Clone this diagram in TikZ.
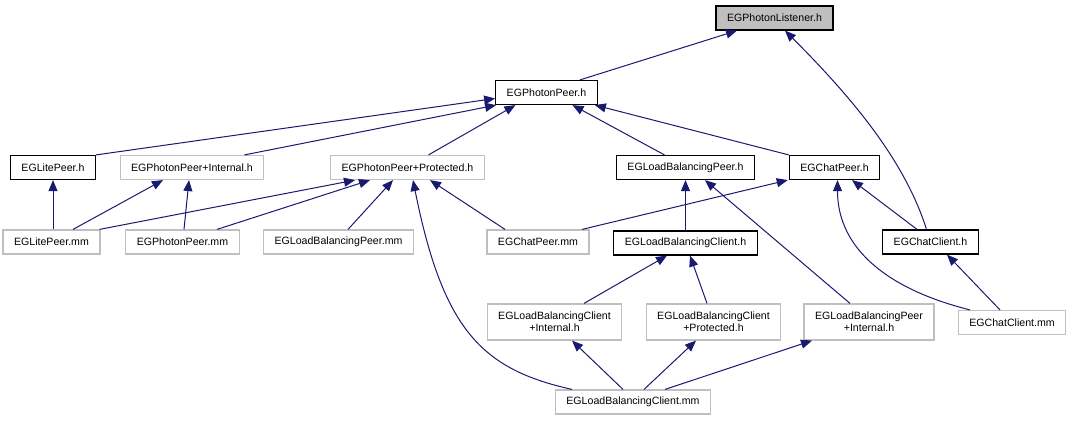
\documentclass[tikz,border=0pt]{standalone}
\usepackage{fontspec}
\setmainfont{Liberation Sans}
\usetikzlibrary{arrows.meta}
\definecolor{edgeblue}{RGB}{25,25,112}
\definecolor{nodegrey}{RGB}{191,191,191}

\begin{document}
\begin{tikzpicture}[
        x=1pt, y=-1pt,
        >={Triangle[length=11pt,width=9pt]},
        file/.style={rectangle, align=center, inner xsep=11pt, inner ysep=5pt,
            minimum height=24pt, font=\fontsize{10.6}{12}\selectfont,
            line width=1.2pt},
        hdr/.style={file, draw=black},
        src/.style={file, draw=nodegrey},
        root/.style={file, draw=black, fill=nodegrey},
        tall/.style={minimum height=36pt},
        dep/.style={->, color=edgeblue, line width=1pt}
    ]
        \useasboundingbox (0,0) rectangle (1072,421);

        \node[root] (listener) at (774.5,18) {EGPhotonListener.h};
        \node[hdr] (photonpeer) at (546.5,92.5) {EGPhotonPeer.h};
        \node[hdr] (litepeerh) at (53,167.5) {EGLitePeer.h};
        \node[src] (ppinternal) at (192,167.5) {EGPhotonPeer+Internal.h};
        \node[src] (ppprotected) at (407.5,167.5) {EGPhotonPeer+Protected.h};
        \node[hdr] (lbpeerh) at (685.5,167.5) {EGLoadBalancingPeer.h};
        \node[hdr] (chatpeerh) at (834.5,167.5) {EGChatPeer.h};
        \node[src] (litepeermm) at (51.5,242) {EGLitePeer.mm};
        \node[src] (photonpeermm) at (182.5,242) {EGPhotonPeer.mm};
        \node[src] (lbpeermm) at (338.5,242) {EGLoadBalancingPeer.mm};
        \node[src] (chatpeermm) at (538,242) {EGChatPeer.mm};
        \node[hdr] (lbclienth) at (685.5,243) {EGLoadBalancingClient.h};
        \node[hdr] (chatclienth) at (930.5,242) {EGChatClient.h};
        \node[src, tall] (lbclientint) at (554.5,322) {EGLoadBalancingClient\\+Internal.h};
        \node[src, tall] (lbclientprot) at (713.5,322) {EGLoadBalancingClient\\+Protected.h};
        \node[src, tall] (lbpeerint) at (869,322) {EGLoadBalancingPeer\\+Internal.h};
        \node[src] (chatclientmm) at (1012,322.5) {EGChatClient.mm};
        \node[src] (lbclientmm) at (633,402) {EGLoadBalancingClient.mm};

        \draw[dep] ([xshift=33.5pt]photonpeer.north) -- ([xshift=-37.5pt]listener.south);
        \draw[dep] ([xshift=-4pt]chatclienth.north) .. controls +(-22,-70) and +(65,65) .. ([xshift=10.5pt]listener.south);
        \draw[dep] (litepeerh.north east) -- ([yshift=-6pt]photonpeer.west);
        \draw[dep] ([xshift=-20pt]ppinternal.north east) -- ([xshift=1pt]photonpeer.south west);
        \draw[dep] ([xshift=21pt]ppprotected.north) -- ([xshift=-31pt]photonpeer.south);
        \draw[dep] ([xshift=-21pt]lbpeerh.north) -- ([xshift=26pt]photonpeer.south);
        \draw[dep] (chatpeerh.north west) -- ([xshift=-3pt]photonpeer.south east);
        \draw[dep] ([xshift=1.5pt]litepeermm.north) -- (litepeerh.south);
        \draw[dep] ([xshift=21.5pt]litepeermm.north) -- ([xshift=-29pt]ppinternal.south);
        \draw[dep] ([xshift=-1pt]litepeermm.north east) -- ([xshift=-52.5pt]ppprotected.south);
        \draw[dep] ([xshift=1.5pt]photonpeermm.north) -- ([xshift=-3pt]ppinternal.south);
        \draw[dep] ([xshift=34.5pt]photonpeermm.north) -- ([xshift=-37.5pt]ppprotected.south);
        \draw[dep] ([xshift=9.5pt]lbpeermm.north) -- ([xshift=-14.5pt]ppprotected.south);
        \draw[dep] ([xshift=-33pt]chatpeermm.north) -- ([xshift=22.5pt]ppprotected.south);
        \draw[dep] ([xshift=-61pt]lbclientmm.north) .. controls +(-90,-20) and +(30,150) .. ([xshift=5.5pt]ppprotected.south);
        \draw[dep] ([xshift=44pt]chatpeermm.north) -- ([xshift=-1pt]chatpeerh.south west);
        \draw[dep] (lbclienth.north) -- (lbpeerh.south);
        \draw[dep] ([xshift=-19pt]lbpeerint.north) -- ([xshift=19.5pt]lbpeerh.south);
        \draw[dep] ([xshift=-13.5pt]chatclienth.north) -- ([xshift=17.5pt]chatpeerh.south);
        \draw[dep] ([xshift=-42pt]chatclientmm.north) .. controls +(-80,-20) and +(0,70) .. ([xshift=3pt]chatpeerh.south);
        \draw[dep] ([xshift=-12pt]chatclientmm.north) -- ([xshift=16.5pt]chatclienth.south);
        \draw[dep] ([xshift=29.5pt]lbclientint.north) -- ([xshift=-18.5pt]lbclienth.south);
        \draw[dep] ([xshift=-6.5pt]lbclientprot.north) -- ([xshift=4.5pt]lbclienth.south);
        \draw[dep] ([xshift=-10pt]lbclientmm.north) -- ([xshift=17.5pt]lbclientint.south);
        \draw[dep] ([xshift=11pt]lbclientmm.north) -- ([xshift=-17.5pt]lbclientprot.south);
        \draw[dep] ([xshift=32pt]lbclientmm.north) -- ([xshift=-57pt]lbpeerint.south);
    \end{tikzpicture}
\end{document}
